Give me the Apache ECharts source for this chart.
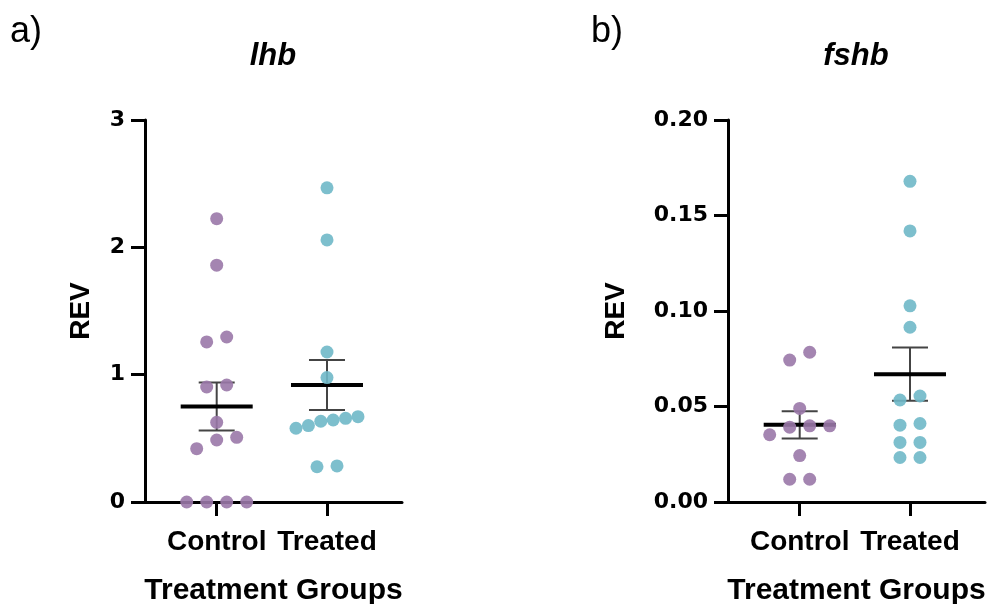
<!DOCTYPE html>
<html>
<head>
<meta charset="utf-8">
<script src="https://cdn.jsdelivr.net/npm/echarts@6/dist/echarts.min.js"></script>
<style>
  html, body { margin: 0; padding: 0; background: #fff; }
  #chart { width: 995px; height: 604px; }
</style>
</head>
<body>
<div id="chart"></div>
<script>
// group names on the x axis
var groups = ['Control', 'Treated'];

// lhb relative expression values
var lhbControl = [2.225, 1.86, 1.257, 1.296, 0.903, 0.919, 0.626, 0.508, 0.487, 0.419, 0, 0, 0, 0];
var lhbTreated = [2.467, 2.058, 1.178, 0.977, 0.657, 0.600, 0.634, 0.670, 0.644, 0.579, 0.277, 0.283];

// fshb relative expression values
var fshbControl = [0.0784, 0.0743, 0.0490, 0.0399, 0.0399, 0.0392, 0.0352, 0.0243, 0.0119, 0.0119];
var fshbTreated = [0.1679, 0.1419, 0.1027, 0.0915, 0.0534, 0.0555, 0.0402, 0.0411, 0.0312, 0.0312, 0.0233, 0.0233];

// y ticks
var lhbTicks = [0, 1, 2, 3];
var fshbTicks = [0, 0.05, 0.10, 0.15, 0.20];

var colors = ['#9a78a8', '#6fb8c8'];

var gridW = 257, gridH = 382, gridTop = 120;
var xMin = 0.35, xMax = 2.68;
var pxPerX = gridW / (xMax - xMin);

// simple beeswarm: bin close values into rows, spread each row sideways
function swarm(values, center, pxPerY) {
    var sorted = values.slice().sort(function (a, b) { return a - b; });
    var rows = [], row = null;
    sorted.forEach(function (v) {
        if (!row || (v - row[0]) * pxPerY > 12) {
            row = [v];
            rows.push(row);
        } else {
            row.push(v);
        }
    });
    var out = [];
    rows.forEach(function (r) {
        var n = r.length;
        var step = n > 4 ? 62 / (n - 1) : 20;
        r.forEach(function (v, i) {
            var off = (i - (n - 1) / 2) * step;
            out.push([center + off / pxPerX, v]);
        });
    });
    return out;
}

function stats(values) {
    var n = values.length;
    var mean = values.reduce(function (s, v) { return s + v; }, 0) / n;
    var ss = values.reduce(function (s, v) { return s + (v - mean) * (v - mean); }, 0);
    var sem = Math.sqrt(ss / (n - 1)) / Math.sqrt(n);
    return [mean, mean - sem, mean + sem];
}

function errItem(params, api) {
    var x = api.value(0);
    var m = api.coord([x, api.value(1)]);
    var lo = api.coord([x, api.value(2)]);
    var hi = api.coord([x, api.value(3)]);
    var barStyle = { stroke: '#444', lineWidth: 2 };
    return {
        type: 'group',
        children: [
            { type: 'line', shape: { x1: m[0], y1: lo[1], x2: m[0], y2: hi[1] }, style: barStyle },
            { type: 'line', shape: { x1: m[0] - 18, y1: lo[1], x2: m[0] + 18, y2: lo[1] }, style: barStyle },
            { type: 'line', shape: { x1: m[0] - 18, y1: hi[1], x2: m[0] + 18, y2: hi[1] }, style: barStyle },
            { type: 'line', shape: { x1: m[0] - 36, y1: m[1], x2: m[0] + 36, y2: m[1] }, style: { stroke: '#000', lineWidth: 4 } }
        ]
    };
}

var axisLineStyle = { color: '#000', width: 3 };

function makeX(idx) {
    return {
        type: 'value', gridIndex: idx, min: xMin, max: xMax,
        splitLine: { show: false },
        axisLine: { show: true, onZero: false, lineStyle: axisLineStyle },
        axisTick: { show: true, customValues: [1, 2], length: 14, lineStyle: axisLineStyle },
        axisLabel: {
            customValues: [1, 2], margin: 26,
            fontFamily: 'Liberation Sans', fontWeight: 'bold', fontSize: 28, color: '#000',
            formatter: function (v) { return groups[Math.round(v) - 1]; }
        },
        name: 'Treatment Groups', nameLocation: 'middle', nameGap: 74,
        nameTextStyle: { fontFamily: 'Liberation Sans', fontWeight: 'bold', fontSize: 30, color: '#000' }
    };
}

function makeY(idx, ticks, digits, gap) {
    return {
        type: 'value', gridIndex: idx,
        min: ticks[0], max: ticks[ticks.length - 1], interval: ticks[1] - ticks[0],
        splitLine: { show: false },
        axisLine: { show: true, lineStyle: axisLineStyle },
        axisTick: { show: true, length: 14, lineStyle: axisLineStyle },
        axisLabel: {
            margin: 20, fontFamily: 'DejaVu Sans', fontWeight: 'bold', fontSize: 22, color: '#000',
            formatter: function (v) { return v.toFixed(digits); }
        },
        name: 'REV', nameLocation: 'middle', nameGap: gap,
        nameTextStyle: { fontFamily: 'Liberation Sans', fontWeight: 'bold', fontSize: 28, color: '#000' }
    };
}

var lhbPx = gridH / (lhbTicks[lhbTicks.length - 1] - lhbTicks[0]);
var fshbPx = gridH / (fshbTicks[fshbTicks.length - 1] - fshbTicks[0]);

function dots(idx, data, color) {
    return {
        type: 'scatter', xAxisIndex: idx, yAxisIndex: idx, data: data,
        symbolSize: 13, clip: false, z: 3,
        itemStyle: { color: color, opacity: 0.9 }
    };
}

function errs(idx, a, b) {
    var sa = stats(a), sb = stats(b);
    return {
        type: 'custom', xAxisIndex: idx, yAxisIndex: idx, z: 2,
        data: [[1].concat(sa), [2].concat(sb)],
        renderItem: errItem
    };
}

var labelFont = { fontFamily: 'Liberation Sans', fontSize: 36, fill: '#000' };
var titleFont = { fontFamily: 'Liberation Sans', fontWeight: 'bold', fontStyle: 'italic', fontSize: 31, fill: '#000' };

var chart = echarts.init(document.getElementById('chart'));
chart.setOption({
    animation: false,
    backgroundColor: '#fff',
    grid: [
        { left: 145, top: gridTop, width: gridW, height: gridH, outerBoundsMode: 'none', containLabel: false },
        { left: 728, top: gridTop, width: gridW, height: gridH, outerBoundsMode: 'none', containLabel: false }
    ],
    graphic: [
        { type: 'text', left: 10, top: 14, style: Object.assign({ text: 'a)' }, labelFont) },
        { type: 'text', left: 591, top: 14, style: Object.assign({ text: 'b)' }, labelFont) },
        { type: 'text', x: 273, y: 56, style: Object.assign({ text: 'lhb', align: 'center', verticalAlign: 'middle' }, titleFont) },
        { type: 'text', x: 856, y: 56, style: Object.assign({ text: 'fshb', align: 'center', verticalAlign: 'middle' }, titleFont) }
    ],
    xAxis: [makeX(0), makeX(1)],
    yAxis: [makeY(0, lhbTicks, 0, 50), makeY(1, fshbTicks, 2, 98)],
    series: [
        errs(0, lhbControl, lhbTreated),
        dots(0, swarm(lhbControl, 1, lhbPx), colors[0]),
        dots(0, swarm(lhbTreated, 2, lhbPx), colors[1]),
        errs(1, fshbControl, fshbTreated),
        dots(1, swarm(fshbControl, 1, fshbPx), colors[0]),
        dots(1, swarm(fshbTreated, 2, fshbPx), colors[1])
    ]
});
</script>
</body>
</html>
